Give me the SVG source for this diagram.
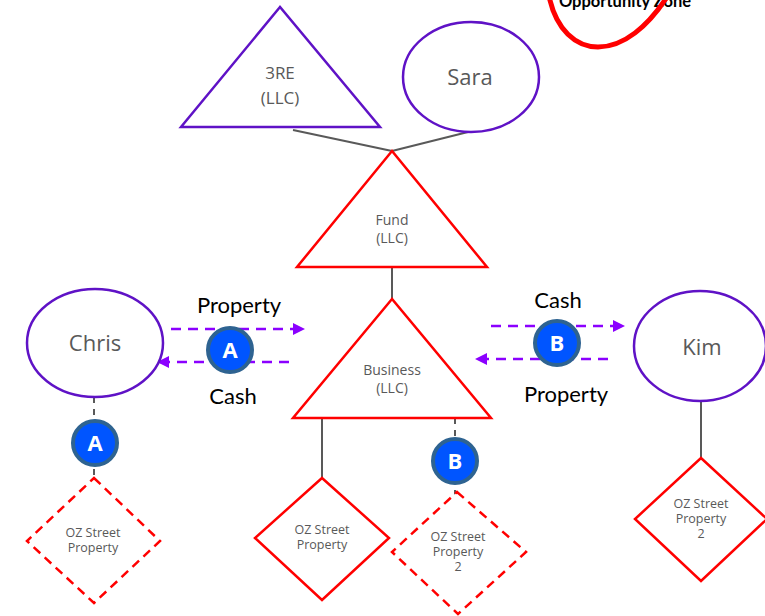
<svg xmlns="http://www.w3.org/2000/svg" width="765" height="616" viewBox="0 0 765 616">
  <defs>
    <style>
      .bg { fill: #ffffff; }
      .lbl { font-family: "Open Sans", "Liberation Sans", sans-serif; fill: #595959; text-anchor: middle; }
      .small { font-size: 12.5px; }
      .big { font-family: "Lato", "Liberation Sans", sans-serif; fill: #000000; text-anchor: middle; font-size: 22px; }
      .owner { fill: #ffffff; stroke: #5f12c6; stroke-width: 2.5; }
      .entity { fill: #ffffff; stroke: #ff0000; stroke-width: 2.5; }
      .prop { fill: #ffffff; stroke: #ff0000; stroke-width: 2.5; }
      .prop-dash { fill: #ffffff; stroke: #ff0000; stroke-width: 2.5; stroke-dasharray: 9 6; }
      .link { stroke: #595959; stroke-width: 2; fill: none; }
      .link-dash { stroke: #595959; stroke-width: 2; fill: none; stroke-dasharray: 6 6; }
      .flow { stroke: #8b00ff; stroke-width: 2.5; fill: none; stroke-dasharray: 10 7; }
      .badge circle { fill: #0055ff; stroke: #2e6391; stroke-width: 4; }
      .badge text { font-family: "Open Sans", "Liberation Sans", sans-serif; font-weight: bold; font-size: 22px; fill: #ffffff; text-anchor: middle; }
    </style>
    <marker id="arrow" viewBox="0 0 12 12" refX="11" refY="6" markerWidth="12" markerHeight="12" markerUnits="userSpaceOnUse" orient="auto">
      <path d="M0,0 L12,6 L0,12 Z" fill="#8b00ff"/>
    </marker>
  </defs>

  <rect class="bg" x="0" y="0" width="765" height="616"/>

  <!-- Connectors -->
  <g id="connectors">
    <line class="link" x1="293" y1="130" x2="392" y2="151"/>
    <line class="link" x1="468" y1="132" x2="392" y2="151"/>
    <line class="link" x1="392" y1="267" x2="392" y2="299"/>
    <line class="link" x1="322" y1="418" x2="322" y2="478"/>
    <line class="link" x1="701" y1="401" x2="701" y2="458"/>
    <line class="link-dash" x1="94" y1="397" x2="94" y2="478"/>
    <line class="link-dash" x1="455" y1="418" x2="455" y2="505"/>
    <!-- Exchange A -->
    <line class="flow" x1="171" y1="329" x2="304" y2="329" marker-end="url(#arrow)"/>
    <line class="flow" x1="289" y1="362" x2="158" y2="362" marker-end="url(#arrow)"/>
    <!-- Exchange B -->
    <line class="flow" x1="491" y1="326" x2="624" y2="326" marker-end="url(#arrow)"/>
    <line class="flow" x1="608" y1="359" x2="476" y2="359" marker-end="url(#arrow)"/>
  </g>

  <!-- Owners -->
  <g id="node-3re">
    <polygon class="owner" points="280,7 181,127 380,127"/>
    <text class="lbl" x="280" y="79" font-size="17">3RE</text>
    <text class="lbl" x="280" y="104" font-size="17">(LLC)</text>
  </g>
  <g id="node-sara">
    <ellipse class="owner" cx="471" cy="77" rx="68" ry="55"/>
    <text class="lbl" x="470" y="85" font-size="22">Sara</text>
  </g>

  <!-- Entities -->
  <g id="node-fund">
    <polygon class="entity" points="392,151 297,267 487,267"/>
    <text class="lbl" x="392" y="225" font-size="14">Fund</text>
    <text class="lbl" x="392" y="243" font-size="14">(LLC)</text>
  </g>
  <g id="node-business">
    <polygon class="entity" points="392,299 293,418 491,418"/>
    <text class="lbl" x="392" y="375" font-size="14">Business</text>
    <text class="lbl" x="392" y="393" font-size="14">(LLC)</text>
  </g>

  <!-- Counterparties -->
  <g id="node-chris">
    <ellipse class="owner" cx="95" cy="343" rx="68" ry="54"/>
    <text class="lbl" x="95" y="351" font-size="22">Chris</text>
  </g>
  <g id="node-kim">
    <ellipse class="owner" cx="700" cy="346" rx="66" ry="55"/>
    <text class="lbl" x="702" y="355" font-size="22">Kim</text>
  </g>

  <!-- Properties -->
  <g id="node-chris-property">
    <polygon class="prop-dash" points="94,478 160,541 94,603 27,541"/>
    <text class="lbl small" x="93" y="537">OZ Street</text>
    <text class="lbl small" x="93" y="552">Property</text>
  </g>
  <g id="node-business-property">
    <polygon class="prop" points="322,478 389,538 322,600 255,538"/>
    <text class="lbl small" x="322" y="534">OZ Street</text>
    <text class="lbl small" x="322" y="549">Property</text>
  </g>
  <g id="node-business-property-2">
    <polygon class="prop-dash" points="457,492 526,552 458,614 392,552"/>
    <text class="lbl small" x="458" y="541">OZ Street</text>
    <text class="lbl small" x="458" y="556">Property</text>
    <text class="lbl small" x="458" y="571">2</text>
  </g>
  <g id="node-kim-property">
    <polygon class="prop" points="701,458 767,519 701,581 635,519"/>
    <text class="lbl small" x="701" y="508">OZ Street</text>
    <text class="lbl small" x="701" y="523">Property</text>
    <text class="lbl small" x="701" y="538">2</text>
  </g>

  <!-- Exchange labels -->
  <g id="labels">
    <text class="big" x="239" y="313">Property</text>
    <text class="big" x="233" y="404">Cash</text>
    <text class="big" x="558" y="308">Cash</text>
    <text class="big" x="566" y="402">Property</text>
  </g>

  <!-- Badges -->
  <g id="badge-a1" class="badge">
    <circle cx="230" cy="350" r="22"/>
    <text x="230" y="358">A</text>
  </g>
  <g id="badge-a2" class="badge">
    <circle cx="95" cy="443" r="22"/>
    <text x="95" y="451">A</text>
  </g>
  <g id="badge-b1" class="badge">
    <circle cx="557" cy="343" r="22"/>
    <text x="557" y="351">B</text>
  </g>
  <g id="badge-b2" class="badge">
    <circle cx="455" cy="461" r="22"/>
    <text x="455" y="469">B</text>
  </g>

  <!-- Zone marker -->
  <g id="zone-marker">
    <text x="625" y="7" font-family="Lato, 'Liberation Sans', sans-serif" font-weight="bold" font-size="16.5" fill="#000000" text-anchor="middle">Opportunity Zone</text>
    <path d="M549,-4 C556,30 576,47 598,47 C624,47 648,26 667,-3" fill="none" stroke="#ff0000" stroke-width="5"/>
  </g>
</svg>
